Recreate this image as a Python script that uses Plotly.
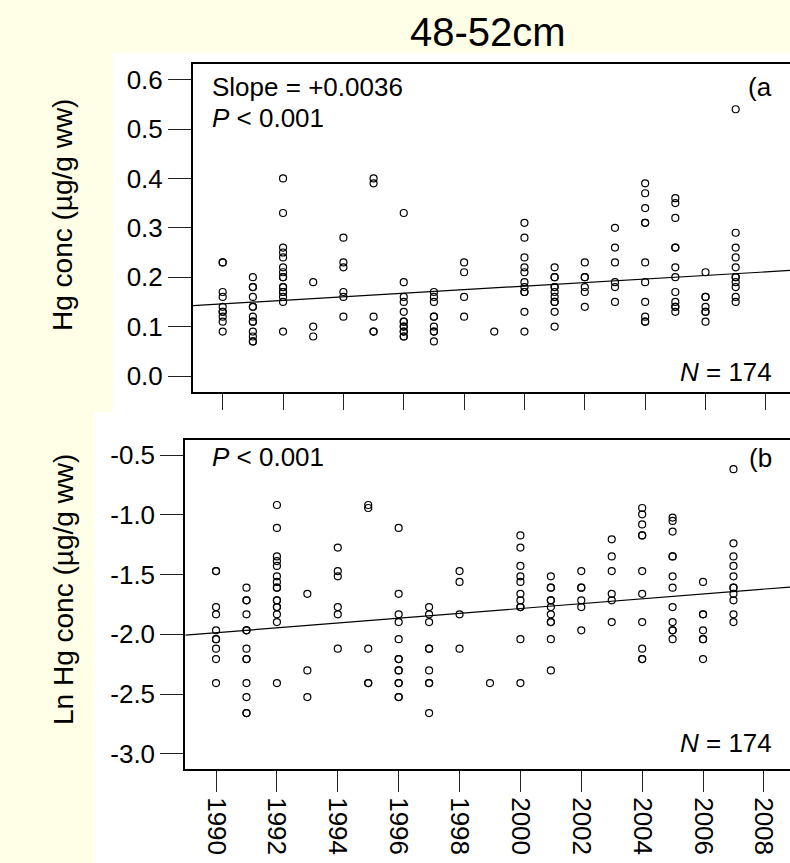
import numpy as np
import plotly.graph_objects as go

# Hg concentration (ug/g wet weight) of 48-52 cm fish, by sampling year
years = [1990, 1991, 1992, 1993, 1994, 1995, 1996, 1997, 1998,
         1999, 2000, 2001, 2002, 2003, 2004, 2005, 2006, 2007]

hg_1990 = [0.23, 0.23, 0.17, 0.16, 0.14, 0.13, 0.13, 0.12, 0.11, 0.09]
hg_1991 = [0.20, 0.18, 0.18, 0.16, 0.14, 0.14, 0.12, 0.11, 0.11, 0.09, 0.08, 0.07, 0.07]
hg_1992 = [0.40, 0.33, 0.26, 0.25, 0.24, 0.22, 0.21, 0.20, 0.20, 0.18, 0.18, 0.17, 0.17,
           0.16, 0.15, 0.09]
hg_1993 = [0.19, 0.10, 0.08]
hg_1994 = [0.28, 0.23, 0.22, 0.17, 0.16, 0.12]
hg_1995 = [0.40, 0.39, 0.12, 0.09, 0.09]
hg_1996 = [0.33, 0.19, 0.16, 0.15, 0.13, 0.11, 0.11, 0.10, 0.10, 0.09, 0.09, 0.08, 0.08]
hg_1997 = [0.17, 0.16, 0.15, 0.12, 0.12, 0.10, 0.09, 0.09, 0.07]
hg_1998 = [0.23, 0.21, 0.16, 0.12]
hg_1999 = [0.09]
hg_2000 = [0.31, 0.28, 0.24, 0.22, 0.21, 0.19, 0.18, 0.17, 0.17, 0.13, 0.09]
hg_2001 = [0.22, 0.20, 0.20, 0.18, 0.18, 0.17, 0.16, 0.15, 0.15, 0.13, 0.10]
hg_2002 = [0.23, 0.20, 0.20, 0.18, 0.17, 0.14]
hg_2003 = [0.30, 0.26, 0.23, 0.19, 0.18, 0.15]
hg_2004 = [0.39, 0.37, 0.34, 0.31, 0.31, 0.23, 0.19, 0.15, 0.12, 0.11, 0.11]
hg_2005 = [0.36, 0.35, 0.32, 0.26, 0.26, 0.22, 0.20, 0.17, 0.15, 0.14, 0.14, 0.13]
hg_2006 = [0.21, 0.16, 0.16, 0.14, 0.13, 0.13, 0.11]
hg_2007 = [0.54, 0.29, 0.26, 0.24, 0.22, 0.20, 0.20, 0.19, 0.18, 0.16, 0.15]

hg_by_year = [hg_1990, hg_1991, hg_1992, hg_1993, hg_1994, hg_1995, hg_1996, hg_1997,
              hg_1998, hg_1999, hg_2000, hg_2001, hg_2002, hg_2003, hg_2004, hg_2005,
              hg_2006, hg_2007]

# fitted trends: value at 1990 and slope per year
hg_fit_1990, hg_slope = 0.146, 0.0036
ln_fit_1990, ln_slope = -1.9865, 0.0203

x_tick_vals = [1990, 1992, 1994, 1996, 1998, 2000, 2002, 2004, 2006, 2008]
x_tick_text = ["1990", "1992", "1994", "1996", "1998", "2000", "2002", "2004", "2006", "2008"]
hg_tick_vals = [0.0, 0.1, 0.2, 0.3, 0.4, 0.5, 0.6]
hg_tick_text = ["0.0", "0.1", "0.2", "0.3", "0.4", "0.5", "0.6"]
ln_tick_vals = [-3.0, -2.5, -2.0, -1.5, -1.0, -0.5]
ln_tick_text = ["-3.0", "-2.5", "-2.0", "-1.5", "-1.0", "-0.5"]

sample_n = 174

# ---------------------------------------------------------------------------
W, H = 790, 863
FONT = "Liberation Sans, Arial, Helvetica, sans-serif"
BG = "#FFFEE6"


def px(x):
    return x / W


def py(y):
    return 1 - y / H


x_all = np.concatenate([[yr] * len(v) for yr, v in zip(years, hg_by_year)])
hg_all = np.concatenate(hg_by_year)
ln_all = np.log(hg_all)

top_xrange = [1989.016, 2008.80]
bot_xrange = [1988.99, 2008.857]

fig = go.Figure()

marker = dict(symbol="circle-open", size=7, color="black", line=dict(width=1.2, color="black"))

fig.add_trace(go.Scatter(x=x_all, y=hg_all, mode="markers", marker=marker,
                         xaxis="x", yaxis="y", showlegend=False, hoverinfo="skip"))
xt = np.array(top_xrange)
fig.add_trace(go.Scatter(x=xt, y=hg_fit_1990 + hg_slope * (xt - 1990), mode="lines",
                         line=dict(color="black", width=1.2),
                         xaxis="x", yaxis="y", showlegend=False, hoverinfo="skip"))

fig.add_trace(go.Scatter(x=x_all, y=ln_all, mode="markers", marker=marker,
                         xaxis="x2", yaxis="y2", showlegend=False, hoverinfo="skip"))
xb = np.array(bot_xrange)
fig.add_trace(go.Scatter(x=xb, y=ln_fit_1990 + ln_slope * (xb - 1990), mode="lines",
                         line=dict(color="black", width=1.2),
                         xaxis="x2", yaxis="y2", showlegend=False, hoverinfo="skip"))

axis_common = dict(showgrid=False, zeroline=False, ticks="outside", tickwidth=1.3,
                   tickcolor="#222", linecolor="black", linewidth=2, showline=True,
                   tickfont=dict(family=FONT, size=26, color="black"))

fig.update_layout(
    width=W, height=H, autosize=False,
    margin=dict(l=0, r=0, t=0, b=0),
    paper_bgcolor=BG, plot_bgcolor="white",
    xaxis=dict(domain=[px(193), 1.0], range=top_xrange, anchor="y",
               tickvals=x_tick_vals, showticklabels=False, ticklen=16, mirror=True,
               **axis_common),
    yaxis=dict(domain=[py(392.3), py(64.3)], range=[-0.033, 0.631], anchor="x",
               tickvals=hg_tick_vals, ticktext=hg_tick_text, ticklen=23,
               **axis_common),
    xaxis2=dict(domain=[px(185.3), 1.0], range=bot_xrange, anchor="y2",
                tickvals=x_tick_vals, ticktext=x_tick_text, tickangle=90, ticklen=21,
                mirror=True, **axis_common),
    yaxis2=dict(domain=[py(769), py(440)], range=[-3.128, -0.372], anchor="x2",
                tickvals=ln_tick_vals, ticktext=ln_tick_text, ticklen=23,
                **axis_common),
    shapes=[
        dict(type="rect", xref="paper", yref="paper", x0=px(113), x1=1.0,
             y0=py(412), y1=py(53), fillcolor="white", line=dict(width=0), layer="below"),
        dict(type="rect", xref="paper", yref="paper", x0=px(94), x1=1.0,
             y0=0.0, y1=py(412), fillcolor="white", line=dict(width=0), layer="below"),
    ],
)


def note(text, x, y, xanchor, size=26, textangle=0):
    fig.add_annotation(text=text, xref="paper", yref="paper", x=px(x), y=py(y),
                       xanchor=xanchor, yanchor="middle", showarrow=False,
                       textangle=textangle,
                       font=dict(family=FONT, size=size, color="black"))


note("48-52cm", 488, 32, "center", size=40)
note("Hg conc (µg/g ww)", 63, 215, "center", size=28, textangle=-90)
note("Ln Hg conc (µg/g ww)", 63, 590, "center", size=28, textangle=-90)

note(f"Slope = +{hg_slope:.4f}", 210, 87, "left")
note("<i>P</i> &lt; 0.001", 210, 118, "left")
note("(a", 774, 87, "right")
note(f"<i>N</i> = {sample_n}", 774, 372, "right")

note("<i>P</i> &lt; 0.001", 210, 457, "left")
note("(b", 774, 458, "right")
note(f"<i>N</i> = {sample_n}", 774, 743, "right")

fig.write_html("out.html")
